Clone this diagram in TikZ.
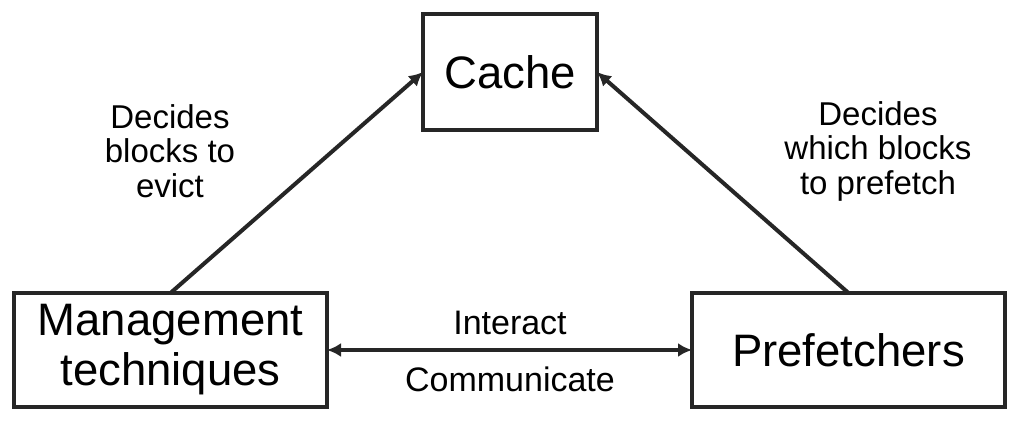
\documentclass[tikz,border=0pt]{standalone}
\usepackage{fontspec}
\setmainfont{Liberation Sans}
\usetikzlibrary{arrows.meta}
\definecolor{linegray}{HTML}{262626}
\tikzset{
  blockbox/.style={draw=linegray, line width=3.3pt, fill=white, outer sep=0, inner sep=0, align=center, font=\fontsize{45.5}{50}\selectfont},
  notetext/.style={align=center, inner sep=0, font=\fontsize{33}{34.5}\selectfont},
  linktext/.style={inner sep=0, font=\fontsize{34}{38}\selectfont},
  link/.style={draw=linegray, line width=4pt, -{Latex[length=14pt,width=14pt]}}
}
\begin{document}
\begin{tikzpicture}[x=1pt, y=-1pt]
\useasboundingbox (0,0) rectangle (1021,425);
%%% Start boxes
        \node[blockbox, minimum width=174pt, minimum height=116pt] (cache) at (510,72) {Cache};
        \node[blockbox, minimum width=313pt, minimum height=114pt] (mgmt) at (170.5,350) {Management\\techniques};
        \node[blockbox, minimum width=313pt, minimum height=114pt] (pref) at (848.5,350) {Prefetchers};
%%% End boxes
%%% Start arrows
        \draw[link] (mgmt.north) -- (cache.west);
        \draw[link] (pref.north) -- (cache.east);
        \draw[link, {Latex[length=14pt,width=14pt]}-{Latex[length=14pt,width=14pt]}] (mgmt.east) -- (pref.west);
%%% End arrows
%%% Start labels
        \node[notetext] (evict) at (170,151) {Decides\\blocks to\\evict};
        \node[notetext] (fetch) at (878,151) {Decides\\which blocks\\to prefetch};
        \node[linktext, anchor=base] (interact) at (510,334) {Interact};
        \node[linktext, anchor=base] (communicate) at (510,391) {Communicate};
%%% End labels
\end{tikzpicture}
\end{document}
